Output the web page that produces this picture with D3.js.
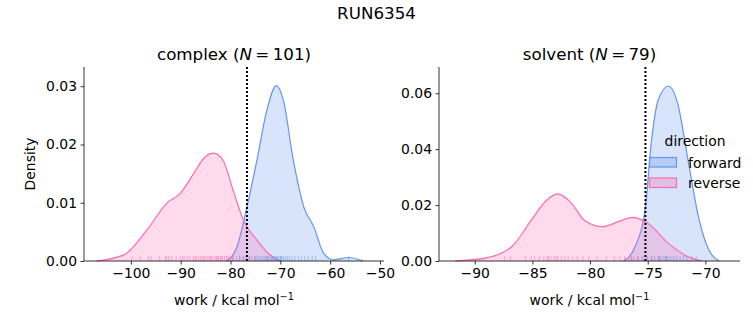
<!DOCTYPE html>
<html>
<head>
<meta charset="utf-8">
<script src="https://cdn.jsdelivr.net/npm/d3@7"></script>
<style>
  body { margin: 0; background: #fff; }
  text { font-family: "DejaVu Sans", sans-serif; fill: #000; }
</style>
</head>
<body>
<svg id="chart" width="753" height="325"></svg>
<script>
// density curves: [work, density]
var complexForward = [[-80.8,0],[-78.7,0.00245],[-76.7,0.0093],[-74.7,0.0173],[-72.7,0.0259],[-70.8,0.0301],
  [-69.4,0.0276],[-67.4,0.0173],[-65.3,0.0093],[-63.3,0.0059],[-61.3,0.0013],[-59.3,0.0002],[-56.3,0.0006],[-53.4,0]];
var complexReverse = [[-106.9,0],[-101.5,0.001],[-96.8,0.0053],[-92.8,0.0099],[-90.1,0.0116],[-87.4,0.015],
  [-85.4,0.0176],[-83.4,0.0185],[-81.5,0.0173],[-79.5,0.0122],[-77.4,0.0070],[-74.7,0.0036],[-72.0,0.001],[-70.0,0]];
var solventForward = [[-77.1,0],[-76.1,0.0051],[-75.2,0.0194],[-74.7,0.042],[-74.1,0.0575],[-73.2,0.0626],
  [-72.4,0.0563],[-71.5,0.036],[-70.6,0.0158],[-69.7,0.0039],[-68.8,0]];
var solventReverse = [[-91.7,0],[-89.1,0.001],[-86.8,0.0051],[-85.1,0.0146],[-83.9,0.0212],[-82.8,0.024],
  [-81.6,0.0206],[-80.5,0.0146],[-78.9,0.0123],[-77.6,0.014],[-76.3,0.0156],[-75.0,0.0135],[-73.2,0.0063],
  [-71.5,0.0015],[-70.3,0]];

// rug samples (work values)
var complexForwardRug = [-79.6,-78.2,-77.5,-76.9,-76.3,-75.8,-75.2,-74.7,-74.3,-73.9,-73.5,-73.1,-72.8,-72.4,-72.1,
  -71.8,-71.5,-71.2,-70.9,-70.6,-70.3,-70.0,-69.7,-69.4,-69.0,-68.6,-68.2,-67.7,-67.1,-66.4,-65.8,-65.1,-64.4,
  -63.6,-62.9,-56.3,-71.4,-70.7,-72.6,-69.9];
var complexReverseRug = [-99.8,-98.1,-96.5,-95.9,-94.2,-93.0,-92.4,-91.8,-90.9,-90.1,-89.6,-88.7,-88.2,-87.5,-86.9,
  -86.4,-86.0,-85.6,-85.1,-84.7,-84.3,-83.9,-83.5,-83.1,-82.8,-82.4,-82.0,-81.6,-81.2,-80.8,-80.3,-79.9,-79.4,
  -78.8,-78.1,-77.3,-76.2,-75.0,-92.9,-89.3,-87.1,-85.3,-84.0,-82.6,-81.9,-80.5];
var solventForwardRug = [-76.4,-75.8,-75.4,-75.0,-74.7,-74.4,-74.1,-73.9,-73.7,-73.5,-73.3,-73.1,-72.9,-72.7,-72.5,
  -72.2,-71.9,-71.6,-71.2,-70.8,-73.4,-74.0];
var solventReverseRug = [-87.4,-86.9,-85.6,-85.1,-84.8,-84.4,-84.0,-83.7,-83.4,-83.1,-82.8,-82.5,-82.2,-81.9,-81.5,
  -81.1,-80.6,-80.1,-79.4,-78.6,-77.9,-77.4,-77.0,-76.6,-76.2,-75.9,-75.5,-75.1,-74.6,-74.1,-73.4,-83.6,-82.9,-76.4];

var complexXTicks = [-100,-90,-80,-70,-60,-50];
var complexYTicks = [0, 0.01, 0.02, 0.03];
var solventXTicks = [-90,-85,-80,-75,-70];
var solventYTicks = [0, 0.02, 0.04, 0.06];
var complexMean = -76.7;
var solventMean = -75.2;

var blue = "#6495ed", pink = "#ff69b4";
var svg = d3.select("#chart");

svg.append("text").attr("x", 376.5).attr("y", 19).attr("text-anchor", "middle")
  .style("font-size", "16.7px").text("RUN6354");

function minus(v){
  return String(v).replace("-", "\u2212");
}

function panel(opt){
  var g = svg.append("g");
  var x = d3.scaleLinear().domain(opt.xDomain).range([opt.left, opt.right]);
  var y = d3.scaleLinear().domain(opt.yDomain).range([261, 67]);

  var area = d3.area().x(function(d){ return x(d[0]); }).y0(y(0)).y1(function(d){ return y(d[1]); })
    .curve(d3.curveMonotoneX);
  var line = d3.line().x(function(d){ return x(d[0]); }).y(function(d){ return y(d[1]); })
    .curve(d3.curveMonotoneX);

  [[opt.fwd, blue], [opt.rev, pink]].forEach(function(s){
    g.append("path").attr("d", area(s[0])).attr("fill", s[1]).attr("fill-opacity", 0.25);
    g.append("path").attr("d", line(s[0])).attr("fill", "none").attr("stroke", s[1]).attr("stroke-width", 1.2);
  });

  [[opt.fwdRug, blue], [opt.revRug, pink]].forEach(function(s){
    g.selectAll(null).data(s[0]).enter().append("line")
      .attr("x1", function(d){ return x(d); }).attr("x2", function(d){ return x(d); })
      .attr("y1", 261).attr("y2", 256)
      .attr("stroke", s[1]).attr("stroke-opacity", 0.5).attr("stroke-width", 1);
  });

  g.append("line").attr("x1", x(opt.mean)).attr("x2", x(opt.mean)).attr("y1", 67).attr("y2", 261)
    .attr("stroke", "#000").attr("stroke-width", 2).attr("stroke-dasharray", "2,2");

  var xa = g.append("g").attr("transform", "translate(0,261)")
    .call(d3.axisBottom(x).tickValues(opt.xTicks).tickSize(3.5).tickPadding(3.5)
      .tickFormat(function(d){ return minus(d); }));
  var ya = g.append("g").attr("transform", "translate(" + opt.left + ",0)")
    .call(d3.axisLeft(y).tickValues(opt.yTicks).tickSize(3.5).tickPadding(3.5)
      .tickFormat(function(d){ return d3.format(".2f")(d); }));
  [xa, ya].forEach(function(a){
    a.select(".domain").attr("d", null);
    a.selectAll("text").style("font-size", "13.9px").style("font-family", "DejaVu Sans").attr("fill", "#000");
    a.selectAll("line").attr("stroke", "#000").attr("stroke-width", 0.8);
  });
  g.append("line").attr("x1", opt.left).attr("x2", opt.right).attr("y1", 261).attr("y2", 261)
    .attr("stroke", "#000").attr("stroke-width", 0.8);
  g.append("line").attr("x1", opt.left).attr("x2", opt.left).attr("y1", 67).attr("y2", 261)
    .attr("stroke", "#000").attr("stroke-width", 0.8);

  var cx = (opt.left + opt.right) / 2;
  var t = g.append("text").attr("x", cx).attr("y", 60).attr("text-anchor", "middle").style("font-size", "16.7px");
  t.append("tspan").text(opt.name + " (");
  t.append("tspan").style("font-style", "italic").text("N");
  t.append("tspan").text("\u2009=\u2009" + opt.n + ")");

  var xl = g.append("text").attr("x", cx).attr("y", 305).attr("text-anchor", "middle").style("font-size", "13.9px");
  xl.append("tspan").text("work / kcal mol");
  xl.append("tspan").attr("dy", -5.5).style("font-size", "9.7px").text("\u22121");
}

panel({name: "complex", n: 101, left: 84, right: 384, xDomain: [-109.4, -49.2], yDomain: [0, 0.0333],
  fwd: complexForward, rev: complexReverse, fwdRug: complexForwardRug, revRug: complexReverseRug,
  xTicks: complexXTicks, yTicks: complexYTicks, mean: complexMean});
panel({name: "solvent", n: 79, left: 439, right: 740, xDomain: [-93.1, -67.0], yDomain: [0, 0.0694],
  fwd: solventForward, rev: solventReverse, fwdRug: solventForwardRug, revRug: solventReverseRug,
  xTicks: solventXTicks, yTicks: solventYTicks, mean: solventMean});

svg.append("text").attr("transform", "translate(35,164) rotate(-90)").attr("text-anchor", "middle")
  .style("font-size", "13.9px").text("Density");

// legend
var legend = svg.append("g");
legend.append("text").attr("x", 695).attr("y", 146).attr("text-anchor", "middle").style("font-size", "13.9px").text("direction");
[["forward", blue], ["reverse", pink]].forEach(function(d, i){
  var yy = 157.5 + i * 20.5;
  legend.append("rect").attr("x", 649.5).attr("y", yy).attr("width", 27).attr("height", 9.5)
    .attr("fill", d[1]).attr("fill-opacity", 0.3).attr("stroke", d[1]).attr("stroke-width", 1.2);
  legend.append("text").attr("x", 688).attr("y", yy + 10).style("font-size", "13.9px").text(d[0]);
});
</script>
</body>
</html>
